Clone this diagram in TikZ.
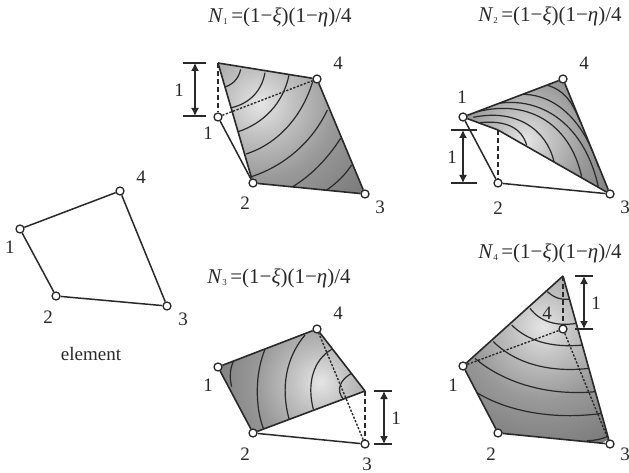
\documentclass[tikz,border=0pt]{standalone}
\usepackage{fontspec}
\setmainfont{Liberation Serif}
\usetikzlibrary{arrows.meta}
\definecolor{ink}{gray}{0.16}
\pgfdeclareradialshading{surf}{\pgfpointorigin}{%
  color(0bp)=(white!90!black);
  color(6bp)=(white!76!black);
  color(14bp)=(white!60!black);
  color(24bp)=(white!49!black);
  color(36bp)=(white!41!black);
  color(50bp)=(white!28!black)}
\newcommand{\Ntitle}[1]{\textit{N}\raisebox{-0.3ex}{\fontsize{9}{9}\selectfont #1}\,=(1−\textit{ξ})(1−\textit{η})/4}
\tikzset{
  vtx/.style={circle,draw=ink,fill=white,line width=1.3pt,inner sep=0pt,minimum size=8pt},
  lbl/.style={font=\fontsize{19}{19}\selectfont,text=ink,inner sep=0pt},
  ttl/.style={font=\fontsize{21}{21}\selectfont,text=ink,inner sep=0pt},
  edge/.style={draw=ink,line width=1.5pt},
  surfedge/.style={draw=ink,line width=1.6pt,line join=round},
  ctr/.style={draw=ink,line width=1.2pt},
  dsh/.style={draw=ink,line width=1.4pt,dash pattern=on 5pt off 3pt},
  dot/.style={draw=ink,line width=1.4pt,dash pattern=on 2.2pt off 1.6pt},
  tick/.style={draw=ink,line width=1.4pt},
  dimarrow/.style={draw=ink,line width=1.4pt,{Latex[length=8pt,width=8pt]}-{Latex[length=8pt,width=8pt]}}
}
\begin{document}
\begin{tikzpicture}[x=1pt,y=-1pt]
\useasboundingbox (0,0) rectangle (629,473);
% ---------- element
\node[vtx] (e1) at (20,229) {};
\node[vtx] (e2) at (56,296) {};
\node[vtx] (e3) at (167,306) {};
\node[vtx] (e4) at (120,191) {};
\draw[edge] (e1)--(e2); \draw[edge] (e2)--(e3); \draw[edge] (e3)--(e4); \draw[edge] (e4)--(e1);
\node[lbl] (le1) at (10,247) {1};
\node[lbl] (le2) at (48,317) {2};
\node[lbl] (le3) at (183,319) {3};
\node[lbl] (le4) at (141,177) {4};
\node[lbl] (elem) at (91,354) {element};
% ---------- N1
\node[ttl] (t1) at (280,17) {\Ntitle{1}};
\coordinate (a0) at (218,63);
\begin{scope}
\clip (a0)--(317,79)--(365,194)--(253,183)--cycle;
\shade[shading=surf] (260,103) circle (135);
\begin{scope}[shift={(170,0)},scale=0.3333]
\draw[ctr] (212,208) .. controls (205,240) and (185,255) .. (162,262);
\draw[ctr] (285,218) .. controls (275,275) and (235,315) .. (175,325);
\draw[ctr] (357,225) .. controls (340,310) and (280,370) .. (205,395);
\draw[ctr] (428,245) .. controls (400,340) and (330,430) .. (228,462);
\draw[ctr] (472,330) .. controls (430,420) and (350,495) .. (245,530);
\draw[ctr] (512,415) .. controls (470,480) and (420,530) .. (360,565);
\draw[ctr] (545,495) .. controls (525,525) and (500,550) .. (470,570);
\end{scope}
\end{scope}
\node[vtx] (a1) at (218,117) {};
\node[vtx] (a2) at (253,183) {};
\node[vtx] (a3) at (365,194) {};
\node[vtx] (a4) at (317,79) {};
\draw[surfedge] (a0)--(a4); \draw[surfedge] (a4)--(a3); \draw[surfedge] (a3)--(a2); \draw[surfedge] (a2)--(a0);
\draw[edge] (a1)--(a2);
\draw[dsh] (a0)--(a1);
\draw[dot] (a1)--(a4);
\coordinate (ad1) at (195,63); \coordinate (ad2) at (195,116);
\draw[tick] (183,63)--(206,63); \draw[tick] (183,116)--(206,116);
\draw[dimarrow] (ad1)--(ad2);
\node[lbl] (la1) at (208,133) {1};
\node[lbl] (la2) at (245,203) {2};
\node[lbl] (la3) at (380,207) {3};
\node[lbl] (la4) at (338,63) {4};
\node[lbl] (lad) at (179,90) {1};
% ---------- N2
\node[ttl] (t2) at (550,16) {\Ntitle{2}};
\coordinate (b0) at (498,130);
\begin{scope}
\clip (463,117)--(563,79)--(610,194)--(b0)--cycle;
\shade[shading=surf] (525,140) circle (110);
\begin{scope}[shift={(430,0)},scale=0.3333]
\draw[ctr] (150,368) .. controls (230,360) and (275,385) .. (290,435);
\draw[ctr] (130,352) .. controls (260,325) and (350,390) .. (372,485);
\draw[ctr] (125,340) .. controls (290,290) and (420,370) .. (455,530);
\draw[ctr] (190,313) .. controls (320,285) and (460,360) .. (505,560);
\draw[ctr] (270,283) .. controls (350,280) and (450,330) .. (505,500);
\draw[ctr] (350,255) .. controls (400,270) and (425,300) .. (450,365);
\end{scope}
\end{scope}
\node[vtx] (b1) at (463,117) {};
\node[vtx] (b2) at (498,183) {};
\node[vtx] (b3) at (610,194) {};
\node[vtx] (b4) at (563,79) {};
\draw[surfedge] (b1)--(b4); \draw[surfedge] (b4)--(b3); \draw[surfedge] (b3)--(b0); \draw[surfedge] (b0)--(b1);
\draw[edge] (b1)--(b2); \draw[edge] (b2)--(b3);
\draw[dsh] (b0)--(b2);
\coordinate (bd1) at (463,130); \coordinate (bd2) at (463,183);
\draw[tick] (451,130)--(477,130); \draw[tick] (451,183)--(477,183);
\draw[dimarrow] (bd1)--(bd2);
\node[lbl] (lb1) at (462,97) {1};
\node[lbl] (lb2) at (498,208) {2};
\node[lbl] (lb3) at (625,207) {3};
\node[lbl] (lb4) at (584,63) {4};
\node[lbl] (lbd) at (452,157) {1};
% ---------- N3
\node[ttl] (t3) at (279,278) {\Ntitle{3}};
\coordinate (c0) at (365,391);
\begin{scope}
\clip (218,367)--(317,329)--(c0)--(253,433)--cycle;
\shade[shading=surf] (320,382) circle (115);
\begin{scope}[shift={(170,250)},scale=0.3333]
\draw[ctr] (190,335) .. controls (180,355) and (178,385) .. (185,410);
\draw[ctr] (285,298) .. controls (255,370) and (255,470) .. (280,535);
\draw[ctr] (405,255) .. controls (350,320) and (330,410) .. (358,510);
\draw[ctr] (485,298) .. controls (430,330) and (410,400) .. (430,478);
\draw[ctr] (555,365) .. controls (510,385) and (495,420) .. (522,450);
\end{scope}
\end{scope}
\node[vtx] (c1) at (218,367) {};
\node[vtx] (c2) at (253,433) {};
\node[vtx] (c3) at (365,444) {};
\node[vtx] (c4) at (317,329) {};
\draw[surfedge] (c1)--(c4); \draw[surfedge] (c4)--(c0); \draw[surfedge] (c0)--(c2); \draw[surfedge] (c2)--(c1);
\draw[edge] (c2)--(c3);
\draw[dot] (c3)--(c4);
\draw[dsh] (c0)--(c3);
\coordinate (cd1) at (384,391); \coordinate (cd2) at (384,444);
\draw[tick] (374,391)--(392,391); \draw[tick] (374,444)--(392,444);
\draw[dimarrow] (cd1)--(cd2);
\node[lbl] (lc1) at (208,385) {1};
\node[lbl] (lc2) at (245,454) {2};
\node[lbl] (lc3) at (367,464) {3};
\node[lbl] (lc4) at (338,313) {4};
\node[lbl] (lcd) at (396,418) {1};
% ---------- N4
\node[ttl] (t4) at (550,253) {\Ntitle{4}};
\coordinate (d0) at (563,276);
\begin{scope}
\clip (463,366)--(d0)--(610,444)--(498,433)--cycle;
\shade[shading=surf] (543,327) circle (130);
\begin{scope}[shift={(430,230)},scale=0.3333]
\draw[ctr] (352,185) .. controls (375,205) and (395,210) .. (417,208);
\draw[ctr] (300,235) .. controls (330,275) and (380,290) .. (440,280);
\draw[ctr] (245,285) .. controls (290,330) and (360,355) .. (460,345);
\draw[ctr] (190,335) .. controls (250,395) and (350,430) .. (478,415);
\draw[ctr] (135,385) .. controls (210,450) and (340,500) .. (497,485);
\draw[ctr] (112,468) .. controls (190,530) and (340,575) .. (517,550);
\draw[ctr] (470,632) .. controls (495,632) and (515,628) .. (535,618);
\end{scope}
\end{scope}
\node[vtx] (d1) at (463,366) {};
\node[vtx] (d2) at (498,433) {};
\node[vtx] (d3) at (610,444) {};
\node[vtx] (d4) at (563,329) {};
\draw[surfedge] (d1)--(d0); \draw[surfedge] (d0)--(d3); \draw[surfedge] (d3)--(d2); \draw[surfedge] (d2)--(d1);
\draw[dot] (d1)--(d4); \draw[dot] (d4)--(d3);
\draw[dsh] (d0)--(d4);
\coordinate (dd1) at (584,276); \coordinate (dd2) at (584,329);
\draw[tick] (575,276)--(593,276); \draw[tick] (575,329)--(593,329);
\draw[dimarrow] (dd1)--(dd2);
\node[lbl] (ld1) at (453,385) {1};
\node[lbl] (ld2) at (491,454) {2};
\node[lbl] (ld3) at (625,454) {3};
\node[lbl] (ld4) at (547,313) {4};
\node[lbl] (ldd) at (596,303) {1};
\end{tikzpicture}
\end{document}
